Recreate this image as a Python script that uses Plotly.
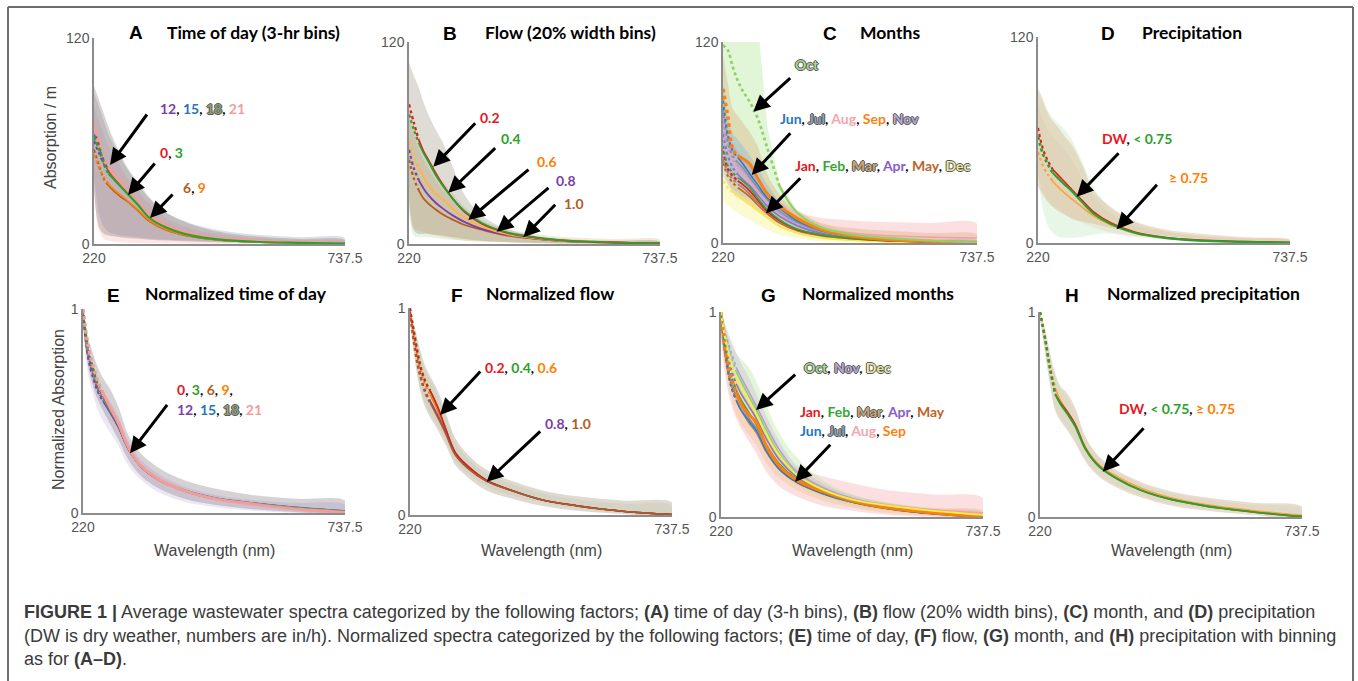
import plotly.graph_objects as go

W, H = 1358, 681

# ---------------- data ----------------
WL = [220, 230, 240, 250, 260, 275, 290, 310, 335, 370, 420, 480, 550, 640, 737.5]

# A: time of day (absorption / m)
A_T0 = [66, 58, 48.5, 42, 38.5, 34, 29.5, 23.5, 15.5, 9.8, 5.2, 2.6, 1.4, 0.8, 0.3]
A_T3 = [62.5, 56, 47, 41, 38, 33.5, 29, 23, 15, 9.5, 5, 2.5, 1.3, 0.7, 0.3]
A_T6 = [55, 46, 38, 34, 31, 27.5, 24.5, 19.5, 13, 8, 4.3, 2.2, 1.2, 0.6, 0.2]
A_T9 = [52, 45, 39, 35, 32, 28.5, 25, 20, 13.5, 8.3, 4.5, 2.3, 1.2, 0.6, 0.2]
A_T12 = [60, 53, 47, 43, 39.5, 35, 30.5, 24, 16, 10, 5.5, 2.8, 1.6, 0.9, 0.3]
A_T15 = [64, 56, 49, 44, 40, 35.5, 30.8, 24.2, 16.2, 10.2, 5.6, 2.9, 1.7, 1.0, 0.4]
A_T18 = [62, 55, 48, 43.5, 39.5, 35, 30.5, 24, 16, 10, 5.4, 2.8, 1.6, 0.9, 0.3]
A_T21 = [71, 58, 50, 45, 41, 36, 31, 24.5, 16.5, 10.5, 5.8, 3, 1.8, 1, 0.4]
A_BAND1_HI = [92, 84, 76, 68, 61, 52, 44, 36, 27, 18, 11.5, 7, 4.5, 3, 2.3]
A_BAND1_LO = [33, 10, 6, 5, 4.5, 4, 3.5, 3, 2.5, 2, 1.5, 1, 0.6, 0.3, 0]
A_BAND2_HI = [88, 80, 72, 64, 58, 50, 43, 35, 26, 18, 12, 8, 5.5, 4, 3.5]
A_BAND2_LO = [40, 18, 10, 7, 6, 5, 4.5, 4, 3, 2.5, 2, 1.5, 1, 0.5, 0.2]
A_BAND3_HI = [80, 72, 64, 57, 52, 45, 38, 31, 23, 15, 9, 5.5, 3.5, 2.2, 1.5]
A_BAND3_LO = [30, 8, 3, 2, 1.5, 1, 0.8, 0.6, 0.4, 0.3, 0.2, 0.1, 0, 0, 0]

# B: flow
B_F02 = [83, 72, 62, 55, 50, 42, 35, 27, 19, 12, 6.8, 3.8, 1.9, 0.9, 0.4]
B_F04 = [77, 68, 60, 54, 49, 41, 34.5, 27, 19.5, 12.5, 7, 4, 2, 1, 0.4]
B_F06 = [61, 52, 45, 40, 35, 30, 26.5, 21, 15.5, 10.5, 6, 3.4, 1.7, 0.8, 0.3]
B_F08 = [56, 45, 38, 33, 29, 24.5, 21, 17, 13, 9, 5.5, 3.2, 1.6, 0.8, 0.3]
B_F10 = [50, 39, 32, 27, 24, 20.5, 17.5, 14.5, 11.3, 8.5, 5.2, 3.1, 1.6, 0.8, 0.3]
B_BAND1_HI = [108, 100, 93, 84, 77, 68, 60, 46, 29, 17, 9, 4.8, 2.6, 1.9, 1.4]
B_BAND1_LO = [25, 8, 6, 6, 6, 5.5, 5, 4, 3, 2, 1.2, 0.6, 0.3, 0.1, 0]
B_BAND2_HI = [80, 70, 62, 55, 50, 43, 37, 30, 22, 14, 8, 5, 3, 2, 1.5]
B_BAND2_LO = [20, 5, 4, 4, 4, 3.5, 3, 2.5, 2, 1.5, 1, 0.5, 0.3, 0.1, 0]
B_BAND3_HI = [75, 65, 57, 50, 45, 38, 32, 26, 20, 14, 9, 6, 4, 3, 2.5]
B_BAND3_LO = [30, 10, 8, 7, 6, 5, 4, 3, 2, 1.5, 1, 0.6, 0.3, 0.1, 0]

# C: months
C_JAN = [55, 44, 40, 37, 35, 31, 26, 19, 13.5, 8.2, 4.8, 2.9, 1.5, 0.7, 0.3]
C_FEB = [58, 46, 42, 39, 37, 33, 27, 20, 14, 8.5, 5, 3, 1.6, 0.8, 0.3]
C_MAR = [50, 42, 38, 35, 33, 29, 24.5, 18.5, 13, 8, 4.6, 2.7, 1.4, 0.7, 0.3]
C_APR = [65, 52, 45, 41, 38, 34, 29, 22, 16, 10.5, 6, 3.5, 1.8, 0.8, 0.3]
C_MAY = [48, 40, 36, 33, 31, 27.5, 23, 17.5, 12, 7.5, 4.3, 2.5, 1.3, 0.6, 0.2]
C_JUN = [85, 64, 55, 51, 47.5, 41, 35, 27, 21, 13.5, 7.5, 4.2, 2.2, 1, 0.4]
C_JUL = [80, 60, 52, 48, 45, 39, 33, 26, 19, 12.5, 7, 4, 2, 0.9, 0.3]
C_AUG = [75, 60, 50, 45, 42, 37, 32, 25, 19, 13, 8.5, 6, 4.5, 3.5, 3]
C_SEP = [92, 75, 56, 52, 50.5, 47, 39, 29.5, 22, 15, 8, 4.3, 2.2, 1, 0.4]
C_OCT = [118, 115, 105, 97, 91, 84, 75, 57, 34, 18.5, 9.2, 5.2, 3, 1.5, 0.4]
C_NOV = [70, 58, 50, 46, 43, 38, 32, 25, 18, 12, 7, 4, 2, 1, 0.4]
C_DEC = [37, 33, 30, 28, 26, 23, 19.5, 15, 10, 6, 3, 1.6, 0.8, 0.4, 0.1]
C_OCT_HI = [140, 140, 140, 140, 140, 140, 135, 70, 36, 20, 11, 6.5, 4, 2.5, 1.5]
C_OCT_LO = [70, 60, 55, 50, 45, 40, 35, 28, 18, 10, 5, 3, 1.5, 0.6, 0]
C_SEP_HI = [112, 95, 80, 76, 72, 66, 58, 41, 29, 19, 12, 9, 7.5, 6, 5]
C_SEP_LO = [60, 40, 30, 28, 26, 23, 20, 15, 10, 6, 3, 1.5, 0.8, 0.3, 0]
C_JUN_HI = [95, 75, 65, 62, 58, 52, 45, 35, 25, 16, 9, 5.5, 3, 2, 1.5]
C_JUN_LO = [40, 35, 32, 30, 28, 26, 23, 18, 13, 8, 4.5, 2.5, 1.2, 0.5, 0]
C_AUG_HI = [85, 70, 60, 55, 52, 46, 40, 32, 25, 19, 15, 13.5, 12.5, 12, 11.5]
C_AUG_LO = [45, 35, 30, 27, 25, 22, 19, 15, 11, 7, 3.5, 1.5, 0.5, 0, 0]
C_APR_HI = [80, 66, 58, 54, 50, 45, 39, 31, 22, 14, 8, 4.8, 2.6, 1.4, 0.8]
C_APR_LO = [50, 42, 38, 35, 32, 28, 24, 18, 12, 7.5, 4, 2.2, 1, 0.4, 0]
C_DEC_HI = [48, 42, 38, 35, 33, 30, 26, 21, 15, 9.5, 5, 2.8, 1.5, 0.8, 0.4]
C_DEC_LO = [25, 22, 20, 18, 16, 14, 11, 8, 5, 3, 1, 0.4, 0, 0, 0]

# D: precipitation
D_DW = [67, 55, 48, 43, 40, 35.5, 31, 25, 18, 11.6, 6.3, 3.3, 1.7, 0.9, 0.3]
D_LT = [62, 52, 46, 41, 38, 34, 30, 24, 17, 11, 5.8, 3, 1.4, 0.7, 0.2]
D_GE = [53, 45, 40, 36, 33, 29, 25.5, 21, 15.5, 10.5, 5.6, 3, 1.5, 0.7, 0.2]
D_TAN_HI = [90, 84, 76, 71, 68, 62, 57, 46, 30, 21, 12.5, 8, 5.5, 3.5, 1.7]
D_TAN_LO = [33, 28, 24, 21, 19, 16.5, 14, 12.5, 11, 8.8, 6.5, 4.2, 2.5, 1.2, 0.3]
D_GRN_HI = [88, 82, 77, 73, 70, 66, 60, 48, 32, 20, 12, 7, 4, 2.5, 1.5]
D_GRN_LO = [38, 20, 10, 6, 4, 3, 3, 3.5, 5, 5.5, 4, 2.5, 1.2, 0.5, 0]
D_PNK_HI = [80, 72, 66, 62, 59, 54, 48, 38, 27, 17, 10, 6.5, 4.5, 3, 2]
D_PNK_LO = [40, 30, 25, 22, 20, 17, 14.5, 12, 9, 6, 3.5, 2, 1, 0.4, 0]

# E: normalized time of day
E_T0 = [1.0, 0.8, 0.7, 0.62, 0.57, 0.5, 0.43, 0.315, 0.228, 0.163, 0.108, 0.07, 0.046, 0.022, 0.005]
E_T3 = [1.0, 0.81, 0.71, 0.63, 0.575, 0.5, 0.432, 0.316, 0.229, 0.164, 0.11, 0.071, 0.047, 0.023, 0.006]
E_T6 = [0.98, 0.78, 0.68, 0.6, 0.55, 0.49, 0.42, 0.31, 0.225, 0.16, 0.108, 0.07, 0.046, 0.022, 0.005]
E_T9 = [0.99, 0.79, 0.69, 0.61, 0.56, 0.495, 0.425, 0.312, 0.226, 0.161, 0.109, 0.071, 0.047, 0.023, 0.006]
E_T12 = [0.97, 0.76, 0.66, 0.59, 0.545, 0.485, 0.42, 0.31, 0.226, 0.163, 0.112, 0.074, 0.05, 0.027, 0.01]
E_T15 = [0.98, 0.78, 0.68, 0.6, 0.55, 0.49, 0.425, 0.313, 0.228, 0.165, 0.113, 0.075, 0.051, 0.028, 0.011]
E_T18 = [0.99, 0.79, 0.69, 0.61, 0.56, 0.495, 0.428, 0.315, 0.229, 0.165, 0.112, 0.074, 0.05, 0.027, 0.01]
E_T21 = [1.0, 0.82, 0.72, 0.64, 0.585, 0.51, 0.44, 0.32, 0.23, 0.165, 0.11, 0.07, 0.045, 0.02, 0.003]
E_BAND1_HI = [1.0, 0.86, 0.78, 0.71, 0.66, 0.6, 0.52, 0.38, 0.29, 0.22, 0.16, 0.12, 0.09, 0.07, 0.06]
E_BAND1_LO = [0.93, 0.72, 0.62, 0.55, 0.5, 0.43, 0.36, 0.26, 0.18, 0.12, 0.07, 0.04, 0.02, 0.005, 0]
E_BAND2_HI = [0.98, 0.82, 0.72, 0.65, 0.6, 0.54, 0.47, 0.35, 0.26, 0.19, 0.13, 0.09, 0.065, 0.05, 0.04]
E_BAND2_LO = [0.9, 0.68, 0.58, 0.5, 0.45, 0.39, 0.33, 0.23, 0.16, 0.1, 0.055, 0.03, 0.012, 0, 0]

# F: normalized flow
F_F02 = [1.0, 0.85, 0.72, 0.645, 0.6, 0.52, 0.42, 0.3, 0.235, 0.17, 0.12, 0.074, 0.045, 0.018, 0.002]
F_F04 = [1.0, 0.86, 0.73, 0.65, 0.6, 0.52, 0.42, 0.3, 0.234, 0.17, 0.12, 0.074, 0.045, 0.018, 0.002]
F_F06 = [0.99, 0.83, 0.71, 0.63, 0.58, 0.5, 0.41, 0.295, 0.23, 0.168, 0.119, 0.074, 0.045, 0.018, 0.002]
F_F08 = [0.98, 0.8, 0.68, 0.6, 0.55, 0.48, 0.4, 0.29, 0.225, 0.165, 0.118, 0.073, 0.044, 0.018, 0.002]
F_F10 = [0.98, 0.79, 0.67, 0.59, 0.54, 0.47, 0.395, 0.288, 0.224, 0.165, 0.118, 0.073, 0.044, 0.018, 0.002]
F_BAND1_HI = [1.0, 0.9, 0.8, 0.72, 0.67, 0.6, 0.5, 0.37, 0.29, 0.22, 0.165, 0.12, 0.09, 0.07, 0.06]
F_BAND1_LO = [0.95, 0.74, 0.6, 0.52, 0.47, 0.41, 0.34, 0.24, 0.18, 0.12, 0.08, 0.045, 0.02, 0.005, 0]
F_BAND2_HI = [1.0, 0.88, 0.78, 0.7, 0.65, 0.58, 0.48, 0.35, 0.27, 0.2, 0.15, 0.105, 0.075, 0.055, 0.045]
F_BAND2_LO = [0.96, 0.76, 0.62, 0.54, 0.49, 0.43, 0.36, 0.26, 0.2, 0.14, 0.095, 0.06, 0.03, 0.01, 0]

# G: normalized months
G_JAN = [0.98, 0.78, 0.66, 0.59, 0.54, 0.48, 0.43, 0.33, 0.24, 0.172, 0.118, 0.074, 0.042, 0.017, 0.001]
G_FEB = [0.99, 0.8, 0.69, 0.62, 0.57, 0.51, 0.45, 0.35, 0.26, 0.185, 0.125, 0.08, 0.047, 0.02, 0.002]
G_MAR = [0.97, 0.76, 0.64, 0.57, 0.52, 0.46, 0.41, 0.315, 0.232, 0.168, 0.115, 0.072, 0.041, 0.016, 0.001]
G_APR = [0.96, 0.82, 0.72, 0.65, 0.6, 0.54, 0.48, 0.38, 0.28, 0.195, 0.13, 0.082, 0.05, 0.022, 0.003]
G_MAY = [0.98, 0.77, 0.65, 0.58, 0.53, 0.475, 0.425, 0.325, 0.238, 0.17, 0.117, 0.073, 0.042, 0.017, 0.001]
G_JUN = [1.0, 0.77, 0.64, 0.57, 0.52, 0.47, 0.42, 0.32, 0.235, 0.17, 0.115, 0.072, 0.04, 0.015, 0.0]
G_JUL = [0.99, 0.78, 0.66, 0.59, 0.54, 0.48, 0.43, 0.33, 0.24, 0.172, 0.118, 0.074, 0.043, 0.018, 0.002]
G_AUG = [0.97, 0.76, 0.65, 0.58, 0.53, 0.47, 0.42, 0.325, 0.24, 0.175, 0.125, 0.085, 0.058, 0.035, 0.02]
G_SEP = [1.0, 0.8, 0.68, 0.61, 0.55, 0.5, 0.46, 0.345, 0.25, 0.18, 0.125, 0.078, 0.045, 0.02, 0.002]
G_OCT = [1.0, 0.88, 0.78, 0.71, 0.66, 0.59, 0.52, 0.42, 0.31, 0.21, 0.135, 0.08, 0.05, 0.022, 0.002]
G_NOV = [0.95, 0.88, 0.8, 0.73, 0.68, 0.61, 0.54, 0.44, 0.33, 0.22, 0.145, 0.09, 0.055, 0.025, 0.003]
G_DEC = [1.0, 0.85, 0.75, 0.68, 0.63, 0.57, 0.5, 0.4, 0.3, 0.205, 0.135, 0.085, 0.055, 0.03, 0.01]
G_OCT_HI = [1.0, 0.92, 0.85, 0.8, 0.77, 0.73, 0.66, 0.54, 0.41, 0.29, 0.18, 0.11, 0.07, 0.04, 0.02]
G_OCT_LO = [0.95, 0.8, 0.7, 0.62, 0.57, 0.5, 0.43, 0.33, 0.23, 0.155, 0.1, 0.055, 0.03, 0.01, 0]
G_AUG_HI = [0.98, 0.8, 0.7, 0.63, 0.58, 0.52, 0.46, 0.38, 0.3, 0.24, 0.2, 0.165, 0.13, 0.11, 0.092]
G_AUG_LO = [0.85, 0.66, 0.55, 0.48, 0.43, 0.37, 0.31, 0.22, 0.15, 0.1, 0.055, 0.03, 0.01, 0, 0]
G_SEP_HI = [1.0, 0.85, 0.75, 0.68, 0.62, 0.56, 0.5, 0.39, 0.29, 0.21, 0.145, 0.095, 0.065, 0.045, 0.03]
G_SEP_LO = [0.88, 0.7, 0.58, 0.5, 0.45, 0.4, 0.35, 0.26, 0.19, 0.13, 0.08, 0.045, 0.02, 0.005, 0]
G_NOV_HI = [1.0, 0.93, 0.86, 0.8, 0.75, 0.68, 0.6, 0.49, 0.37, 0.25, 0.165, 0.105, 0.07, 0.04, 0.025]
G_NOV_LO = [0.88, 0.8, 0.72, 0.65, 0.6, 0.54, 0.47, 0.38, 0.28, 0.19, 0.12, 0.07, 0.04, 0.015, 0]

# H: normalized precipitation
H_DW = [1.0, 0.87, 0.72, 0.6, 0.56, 0.51, 0.45, 0.335, 0.252, 0.19, 0.13, 0.085, 0.053, 0.025, 0.002]
H_LT = [1.0, 0.87, 0.72, 0.6, 0.553, 0.5, 0.44, 0.33, 0.25, 0.19, 0.13, 0.085, 0.053, 0.025, 0.002]
H_GE = [1.0, 0.88, 0.74, 0.63, 0.57, 0.51, 0.45, 0.34, 0.26, 0.2, 0.14, 0.093, 0.06, 0.032, 0.008]
H_TAN_HI = [1.0, 0.92, 0.8, 0.7, 0.64, 0.6, 0.53, 0.39, 0.3, 0.23, 0.17, 0.125, 0.095, 0.07, 0.05]
H_TAN_LO = [0.96, 0.8, 0.64, 0.52, 0.47, 0.42, 0.36, 0.27, 0.2, 0.145, 0.095, 0.055, 0.03, 0.01, 0]
H_GRN_HI = [1.0, 0.9, 0.78, 0.69, 0.63, 0.58, 0.51, 0.38, 0.29, 0.22, 0.16, 0.115, 0.085, 0.06, 0.04]
H_GRN_LO = [0.97, 0.81, 0.65, 0.53, 0.48, 0.43, 0.37, 0.28, 0.21, 0.155, 0.105, 0.065, 0.04, 0.02, 0.005]

# ---------------- styling ----------------
RED = "#e8161e"; GREEN = "#2ca02c"; BROWN = "#b35c1e"; ORANGE = "#ff8000"
PURPLE = "#7b3fa8"; BLUE = "#2677c0"; OLIVE = "#7f9468"; SALMON = "#f49b9b"
M_COL = {"Jan": "#e8161e", "Feb": "#33a833", "Mar": "#a8845a", "Apr": "#9370c8",
         "May": "#c0622a", "Jun": "#2a7fc0", "Jul": "#7f95a8", "Aug": "#f4a0a8",
         "Sep": "#ff7f0e", "Oct": "#92d068", "Nov": "#b4a0d0", "Dec": "#eeee4a"}

# panel boxes in pixels: (x0, x1, ytop, ybottom)
PANELS = {
    1: (94, 345, 38, 244), 2: (409, 660, 42, 244), 3: (723, 977, 42, 243), 4: (1038, 1290, 37, 243),
    5: (83, 345, 309, 513), 6: (410, 672, 308, 515), 7: (721, 983, 312, 517), 8: (1040, 1302, 312, 517),
}

fig = go.Figure()

def ax(i):
    return ("x" if i == 1 else f"x{i}"), ("y" if i == 1 else f"y{i}")

def band(i, hi, lo, color, shape="spline"):
    xa, ya = ax(i)
    fig.add_trace(go.Scatter(x=WL + WL[::-1], y=hi + lo[::-1], fill="toself", fillcolor=color,
                             line=dict(width=0, shape=shape), mode="lines", hoverinfo="skip",
                             showlegend=False, xaxis=xa, yaxis=ya))

def series(i, vals, color, width=2, dot_end=250):
    xa, ya = ax(i)
    k = WL.index(dot_end)
    fig.add_trace(go.Scatter(x=WL[:k + 1], y=vals[:k + 1], mode="lines",
                             line=dict(color=color, width=width + 0.5, dash="dot", shape="spline"),
                             hoverinfo="skip", showlegend=False, xaxis=xa, yaxis=ya))
    fig.add_trace(go.Scatter(x=WL[k:], y=vals[k:], mode="lines",
                             line=dict(color=color, width=width, shape="spline"),
                             hoverinfo="skip", showlegend=False, xaxis=xa, yaxis=ya))

# A
band(1, A_BAND3_HI, A_BAND3_LO, "rgba(240,170,170,0.28)")
band(1, A_BAND2_HI, A_BAND2_LO, "rgba(150,160,185,0.32)")
band(1, A_BAND1_HI, A_BAND1_LO, "rgba(140,118,112,0.33)")
for v, c in [(A_T6, BROWN), (A_T9, ORANGE), (A_T12, PURPLE), (A_T15, BLUE), (A_T18, OLIVE), (A_T0, RED)]:
    series(1, v, c, 1.5)
series(1, A_T21, SALMON, 3.5)
series(1, A_T3, GREEN, 2.2)

# B
band(2, B_BAND2_HI, B_BAND2_LO, "rgba(175,215,160,0.3)")
band(2, B_BAND3_HI, B_BAND3_LO, "rgba(230,180,140,0.3)")
band(2, B_BAND1_HI, B_BAND1_LO, "rgba(150,135,115,0.3)")
for v, c in [(B_F10, BROWN), (B_F08, PURPLE), (B_F06, "#ffb347"), (B_F02, RED), (B_F04, GREEN)]:
    series(2, v, c, 1.8, 240)

# C
band(3, C_OCT_HI, C_OCT_LO, "rgba(170,225,140,0.35)", "linear")
band(3, C_AUG_HI, C_AUG_LO, "rgba(245,160,165,0.33)")
band(3, C_SEP_HI, C_SEP_LO, "rgba(215,165,110,0.33)")
band(3, C_JUN_HI, C_JUN_LO, "rgba(120,180,230,0.35)")
band(3, C_APR_HI, C_APR_LO, "rgba(180,160,215,0.3)")
band(3, C_DEC_HI, C_DEC_LO, "rgba(245,240,120,0.35)")
for v, m in [(C_DEC, "Dec"), (C_MAY, "May"), (C_MAR, "Mar"), (C_JAN, "Jan"), (C_APR, "Apr"), (C_FEB, "Feb"),
             (C_NOV, "Nov"), (C_AUG, "Aug"), (C_JUL, "Jul"), (C_JUN, "Jun")]:
    series(3, v, M_COL[m], 1.6)
series(3, C_SEP, M_COL["Sep"], 3)
series(3, C_OCT, M_COL["Oct"], 2.2, 335)

# D
band(4, D_PNK_HI, D_PNK_LO, "rgba(245,190,190,0.3)")
band(4, D_GRN_HI, D_GRN_LO, "rgba(190,230,185,0.35)")
band(4, D_TAN_HI, D_TAN_LO, "rgba(215,180,140,0.4)")
series(4, D_GE, "#ffa040", 1.6)
series(4, D_DW, RED, 1.6)
series(4, D_LT, GREEN, 2.2)

# E
band(5, E_BAND2_HI, E_BAND2_LO, "rgba(190,175,215,0.3)")
band(5, E_BAND1_HI, E_BAND1_LO, "rgba(150,140,150,0.4)")
for v, c in [(E_T6, BROWN), (E_T9, ORANGE), (E_T12, PURPLE), (E_T15, BLUE), (E_T18, OLIVE), (E_T0, RED), (E_T3, GREEN)]:
    series(5, v, c, 1.4, 260)
series(5, E_T21, SALMON, 3, 260)

# F
band(6, F_BAND2_HI, F_BAND2_LO, "rgba(200,225,190,0.3)")
band(6, F_BAND1_HI, F_BAND1_LO, "rgba(175,160,135,0.4)")
for v, c in [(F_F06, ORANGE), (F_F04, GREEN), (F_F02, RED), (F_F08, PURPLE), (F_F10, BROWN)]:
    series(6, v, c, 1.5, 260)

# G
band(7, G_AUG_HI, G_AUG_LO, "rgba(245,165,170,0.35)")
band(7, G_OCT_HI, G_OCT_LO, "rgba(180,225,150,0.35)")
band(7, G_NOV_HI, G_NOV_LO, "rgba(190,170,220,0.3)")
band(7, G_SEP_HI, G_SEP_LO, "rgba(240,190,130,0.35)")
for v, m in [(G_MAR, "Mar"), (G_JAN, "Jan"), (G_MAY, "May"), (G_JUL, "Jul"), (G_AUG, "Aug"), (G_APR, "Apr"),
             (G_FEB, "Feb"), (G_NOV, "Nov"), (G_OCT, "Oct"), (G_JUN, "Jun")]:
    series(7, v, M_COL[m], 1.6, 250)
series(7, G_SEP, M_COL["Sep"], 3, 250)
series(7, G_DEC, "#f2f23c", 1.8, 250)

# H
band(8, H_GRN_HI, H_GRN_LO, "rgba(200,230,190,0.3)")
band(8, H_TAN_HI, H_TAN_LO, "rgba(205,180,150,0.45)")
series(8, H_GE, "#ffa040", 1.5, 250)
series(8, H_DW, RED, 1.5, 250)
series(8, H_LT, GREEN, 2, 250)

# ---------------- axes ----------------
TICKFONT = dict(family="Liberation Sans, Arial", size=14, color="#555555")
layout = dict(width=W, height=H, margin=dict(l=0, r=0, t=0, b=0, autoexpand=False), paper_bgcolor="white",
              plot_bgcolor="rgba(0,0,0,0)", showlegend=False)
for i, (x0, x1, yt, yb) in PANELS.items():
    xk = "xaxis" if i == 1 else f"xaxis{i}"
    yk = "yaxis" if i == 1 else f"yaxis{i}"
    xa, ya = ax(i)
    top = 120 if i <= 4 else 1
    layout[xk] = dict(domain=[x0 / W, x1 / W], range=[220, 737.5], anchor=ya,
                      tickvals=[220, 737.5], ticktext=["220", "737.5"], showline=True,
                      linecolor="#8c8c8c", linewidth=1.5, showgrid=False, zeroline=False,
                      ticks="", tickfont=TICKFONT, fixedrange=True, automargin=False)
    layout[yk] = dict(domain=[1 - yb / H, 1 - yt / H], range=[0, top], anchor=xa,
                      tickvals=[0, top], ticktext=["0", str(top)], showline=True,
                      linecolor="#8c8c8c", linewidth=1.5, showgrid=False, zeroline=False,
                      ticks="inside", ticklen=4, tickcolor="#8c8c8c", tickfont=TICKFONT,
                      fixedrange=True, automargin=False)
fig.update_layout(**layout)

# ---------------- annotations ----------------
ann = []

def P(x, y):
    return x / W, 1 - y / H

def text(x, y, t, size=15, family="Lato", anchor="left", color="#000", weight="bold", angle=0):
    px, py = P(x, y)
    ann.append(dict(x=px, y=py, xref="paper", yref="paper", text=t, showarrow=False,
                    xanchor=anchor, yanchor="middle", textangle=angle,
                    font=dict(family=family, size=size, color=color, weight=weight)))

def arrow(tx, ty, hx, hy):
    px, py = P(hx, hy)
    ann.append(dict(x=px, y=py, xref="paper", yref="paper", text="", showarrow=True,
                    ax=tx - hx, ay=ty - hy, axref="pixel", ayref="pixel",
                    arrowhead=2, arrowsize=1.1, arrowwidth=3, arrowcolor="black", startstandoff=0))

def c(t, col, outline=None):
    if outline:
        sh = f"-1px 0 0 {outline},1px 0 0 {outline},0 -1px 0 {outline},0 1px 0 {outline}"
        return f'<span style="color:{col};text-shadow:{sh}">{t}</span>'
    return f'<span style="color:{col}">{t}</span>'

K = '<span style="color:#000">, </span>'
DK = "#5a5a5a"

# titles
TF = "Lato"
for (lx, ly, L), (tx, ty, T) in [
    ((136, 32, "A"), (165, 32, "Time of day (3-hr bins)")),
    ((450, 33, "B"), (483, 32, "Flow (20% width bins)")),
    ((830, 33, "C"), (858, 32, "Months")),
    ((1108, 33, "D"), (1140, 32, "Precipitation")),
    ((114, 295, "E"), (143, 293, "Normalized time of day")),
    ((457, 295, "F"), (484, 293, "Normalized flow")),
    ((768, 295, "G"), (800, 293, "Normalized months")),
    ((1072, 295, "H"), (1105, 293, "Normalized precipitation")),
]:
    text(lx, ly, L, size=19, family="Liberation Sans, Arial", anchor="center")
    text(tx, ty, T, size=17.5, family=TF)

# axis titles
text(50, 138, "Absorption / m", size=16, family="Liberation Sans, Arial", anchor="center",
     color="#444", weight="normal", angle=-90)
text(58, 410, "Normalized Absorption", size=16, family="Liberation Sans, Arial", anchor="center",
     color="#444", weight="normal", angle=-90)
for cx in [214, 541, 852, 1171]:
    text(cx, 550, "Wavelength (nm)", size=16, family="Liberation Sans, Arial", anchor="center",
         color="#444", weight="normal")

# A labels
text(158, 108, c("12", PURPLE) + K + c("15", BLUE) + K + c("18", "#8fa076", DK) + K + c("21", SALMON), 14)
arrow(148, 113, 110, 165)
text(158, 153, c("0", RED) + K + c("3", GREEN), 14)
arrow(156, 162, 128, 195)
text(181, 187, c("6", BROWN) + K + c("9", ORANGE), 14)
arrow(174, 193, 150, 218)

# B labels
text(478, 117, c("0.2", RED), 14)
arrow(476.7, 121.7, 433.3, 166.7)
text(499, 138, c("0.4", GREEN), 14)
arrow(496.7, 146.7, 448.3, 192.7)
text(535, 162, c("0.6", ORANGE), 14)
arrow(530, 168.3, 468.3, 220)
text(554, 180, c("0.8", PURPLE), 14)
arrow(550, 186.7, 496.7, 231.7)
text(562, 203, c("1.0", BROWN), 14)
arrow(556.7, 203.3, 523.3, 237.3)

# C labels
text(793, 65, c("Oct", "#a8d890", DK), 14)
arrow(791.7, 76.7, 753.3, 111.7)
text(778, 118, c("Jun", BLUE) + K + c("Jul", "#8aa0b4", DK) + K + c("Aug", "#f4a6ae") + K
     + c("Sep", "#ff7f0e") + K + c("Nov", "#b8a8d0", DK), 14)
arrow(791.7, 131.7, 751.7, 175)
text(793, 165, c("Jan", RED) + K + c("Feb", "#33a833") + K + c("Mar", "#c8a878", DK) + K
     + c("Apr", "#8a5cc8") + K + c("May", "#c0622a") + K + c("Dec", "#e8e8a0", DK), 14)
arrow(801.7, 176.7, 766, 213.3)

# D labels
text(1100, 138, c("DW", RED) + K + c("< 0.75", GREEN), 14)
arrow(1120, 151.7, 1076.7, 196.7)
text(1167, 177, c("≥ 0.75", ORANGE), 14)
arrow(1158.3, 183.3, 1116.7, 229.3)

# E labels
text(175, 389, c("0", RED) + K + c("3", GREEN) + K + c("6", BROWN) + K + c("9", ORANGE) + '<span style="color:#000">,</span>', 14)
text(175, 409, c("12", PURPLE) + K + c("15", BLUE) + K + c("18", "#8fa076", DK) + K + c("21", SALMON), 14)
arrow(168.3, 403.3, 130, 453.3)

# F labels
text(483, 367, c("0.2", RED) + K + c("0.4", GREEN) + K + c("0.6", ORANGE), 14)
arrow(481.7, 370, 440, 415)
text(543, 423, c("0.8", PURPLE) + K + c("1.0", BROWN), 14)
arrow(541.7, 430, 486.7, 481.7)

# G labels
text(802, 367, c("Oct", "#a8d890", DK) + K + c("Nov", "#b8a8d0", DK) + K + c("Dec", "#e8e8a0", DK), 14)
arrow(796.7, 373.3, 756, 410)
text(798, 411, c("Jan", RED) + K + c("Feb", "#33a833") + K + c("Mar", "#c8a878", DK) + K
     + c("Apr", "#8a5cc8") + K + c("May", "#c0622a"), 14)
text(798, 430, c("Jun", BLUE) + K + c("Jul", "#8aa0b4", DK) + K + c("Aug", "#f4a6ae") + K
     + c("Sep", "#ff7f0e"), 14)
arrow(831.7, 443.3, 795, 481.7)

# H labels
text(1117, 408, c("DW", RED) + K + c("< 0.75", GREEN) + K + c("≥ 0.75", ORANGE), 14)
arrow(1145, 426.7, 1102.7, 471.7)

# caption
CF = "Liberation Sans, Arial"
cap1 = ("<b>FIGURE 1 |</b> Average wastewater spectra categorized by the following factors; <b>(A)</b> time of day "
        "(3-h bins), <b>(B)</b> flow (20% width bins), <b>(C)</b> month, and <b>(D)</b> precipitation")
cap2 = ("(DW is dry weather, numbers are in/h). Normalized spectra categorized by the following factors; "
        "<b>(E)</b> time of day, <b>(F)</b> flow, <b>(G)</b> month, and <b>(H)</b> precipitation with binning")
cap3 = "as for <b>(A–D)</b>."
for yy, t in [(612, cap1), (636, cap2), (659, cap3)]:
    text(22, yy, t, size=18, family=CF, color="#3a3a3a", weight="normal")

fig.update_layout(annotations=ann)

# frame
shapes = []
for (x0, y0, x1, y1) in [(8, 7, 1353, 7), (8, 7, 8, 681), (1353, 7, 1353, 681)]:
    shapes.append(dict(type="line", xref="paper", yref="paper", x0=x0 / W, y0=1 - y0 / H,
                       x1=x1 / W, y1=1 - y1 / H, line=dict(color="#6e6e6e", width=2)))
fig.update_layout(shapes=shapes)

fig.write_html("out.html", config={"responsive": False, "displayModeBar": False},
               post_script="document.body.style.margin='0';document.body.style.overflow='hidden';")
